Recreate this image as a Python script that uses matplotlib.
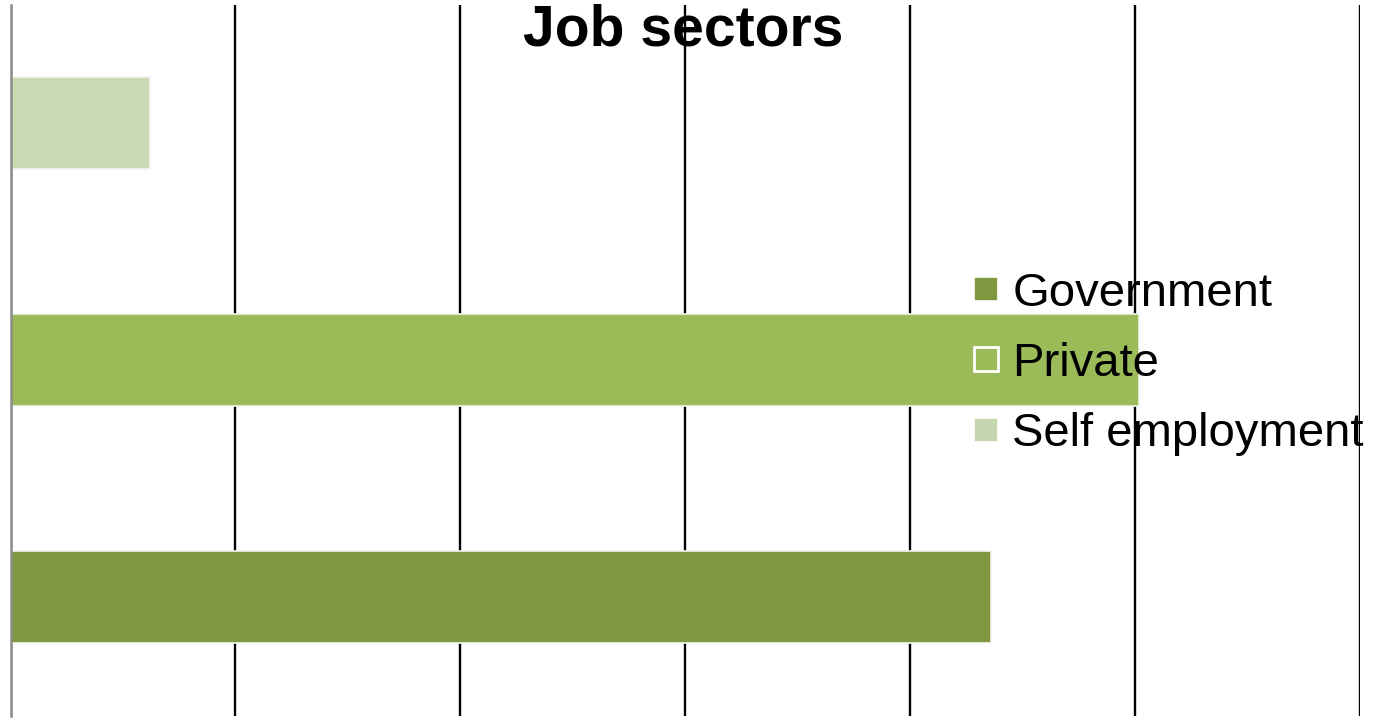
import matplotlib
matplotlib.use("Agg")
import matplotlib.pyplot as plt
from matplotlib.lines import Line2D

plt.rcParams['font.family'] = ['Liberation Sans', 'DejaVu Sans']

# data (share of respondents, %)
sectors = ['Government', 'Private', 'Self employment']
shares = [43.6, 50.2, 6.2]
colors = ['#7F9840', '#9BBB59', '#CAD9B1']
legend_colors = ['#7F9840', '#9BBB59', '#C3D6AE']
grid_ticks = [0, 10, 20, 30, 40, 50, 60]

W, H = 1381, 718
fig = plt.figure(figsize=(W / 100, H / 100), dpi=100)
ax = fig.add_axes([10.5 / W, 2.5 / H, 1349 / W, 711 / H])

ax.barh(range(len(sectors)), shares, height=0.39, color=colors,
        edgecolor='#F4F4F0', linewidth=1.2, zorder=3)

ax.set_xlim(0, 60)
ax.set_ylim(-0.5, 2.5)
ax.set_xticks(grid_ticks)
ax.set_yticks([])
ax.tick_params(axis='x', length=0, labelbottom=False)
ax.grid(axis='x', color='black', linewidth=1.7, zorder=0)
ax.set_axisbelow(True)
for side in ['top', 'right', 'bottom']:
    ax.spines[side].set_visible(False)
ax.spines['left'].set_color('#8C8C8C')
ax.spines['left'].set_linewidth(1.8)
ax.spines['left'].set_zorder(4)

fig.text(683 / W, 1 - 46 / H, 'Job sectors', ha='center', va='baseline',
         fontsize=41, fontweight='bold')

handles = [
    Line2D([], [], linestyle='none', marker='s', markersize=17,
           markerfacecolor=legend_colors[0], markeredgecolor='white', markeredgewidth=1.2),
    Line2D([], [], linestyle='none', marker='s', markersize=17,
           markerfacecolor='none', markeredgecolor='white', markeredgewidth=2.0),
    Line2D([], [], linestyle='none', marker='s', markersize=17,
           markerfacecolor=legend_colors[2], markeredgecolor='white', markeredgewidth=1.2),
]
leg = fig.legend(handles, sectors, loc='center left',
                 bbox_to_anchor=(973 / W, 1 - 364 / H), frameon=False,
                 fontsize=34, borderpad=0, borderaxespad=0, labelspacing=0.56,
                 handlelength=0.55, handletextpad=0.28)

fig.savefig('out.png', dpi=100)
